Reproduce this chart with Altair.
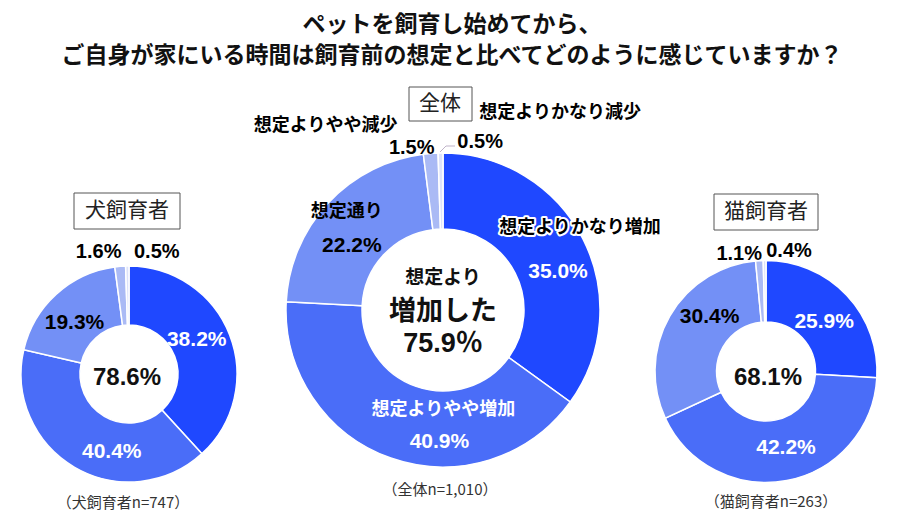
import altair as alt
import pandas as pd

title_lines = ["ペットを飼育し始めてから、",
               "ご自身が家にいる時間は飼育前の想定と比べてどのように感じていますか？"]
categories = ["想定よりかなり増加", "想定よりやや増加", "想定通り", "想定よりやや減少", "想定よりかなり減少"]
groups = ["全体", "犬飼育者", "猫飼育者"]
values_all = [35.0, 40.9, 22.2, 1.5, 0.5]
values_dog = [38.2, 40.4, 19.3, 1.6, 0.5]
values_cat = [25.9, 42.2, 30.4, 1.1, 0.4]
increase_totals = ["75.9％", "78.6%", "68.1%"]
center_caption = ["想定より", "増加した"]
sample_notes = ["（全体n=1,010）", "（犬飼育者n=747）", "（猫飼育者n=263）"]
colors = ["#1f48ff", "#4a6df8", "#7390f6", "#aabaf5", "#dce2fa"]

rows = []
for g, vals in zip(groups, [values_all, values_dog, values_cat]):
    for i, (c, v) in enumerate(zip(categories, vals)):
        rows.append({"group": g, "cat": c, "idx": i, "v": v})
df = pd.DataFrame(rows)

O = 8  # page margin
JP = "Noto Sans CJK JP"
NUM = "Liberation Sans, Noto Sans CJK JP"
THETA_SCALE = alt.Scale(domain=[0, 1])

geom = {
    "全体": dict(cx=443, cy=310, ri=81, ro=157, rl=119),
    "犬飼育者": dict(cx=129, cy=374, ri=49, ro=108, rl=78),
    "猫飼育者": dict(cx=766, cy=371.5, ri=49.5, ro=111, rl=80),
}


def arcs(g):
    p = geom[g]
    return alt.Chart(df).transform_filter(alt.datum.group == g).transform_joinaggregate(
        total="sum(v)").transform_calculate(frac="datum.v / datum.total").mark_arc(
        innerRadius=p["ri"], outerRadius=p["ro"], stroke="white", strokeWidth=1.5
    ).encode(
        x=alt.value(p["cx"] - O), y=alt.value(p["cy"] - O),
        theta=alt.Theta("frac:Q", stack=True, scale=THETA_SCALE),
        color=alt.Color("cat:N", scale=alt.Scale(domain=categories, range=colors), legend=None),
        order=alt.Order("idx:Q"),
    )


def label(g, k, dx, dy, field, color, size, font, halo=False):
    p = geom[g]
    base = alt.Chart(df).transform_filter(alt.datum.group == g).transform_joinaggregate(
        total="sum(v)").transform_window(
        cum="sum(v)", sort=[alt.SortField("idx")], frame=[None, 0]).transform_calculate(
        mid="(datum.cum - datum.v / 2) / datum.total",
        pct="format(datum.v, '.1f') + '%'").transform_filter(alt.datum.idx == k)
    enc = dict(x=alt.value(p["cx"] - O), y=alt.value(p["cy"] - O),
               theta=alt.Theta("mid:Q", stack=False, scale=THETA_SCALE),
               text=alt.Text(f"{field}:N"))
    kw = dict(radius=p["rl"], dx=dx, dy=dy, fontSize=size, fontWeight="bold", font=font,
              align="center", baseline="middle")
    out = []
    if halo:
        out.append(base.mark_text(color="white", stroke="white", strokeWidth=4,
                                  strokeJoin="round", **kw).encode(**enc))
    out.append(base.mark_text(color=color, **kw).encode(**enc))
    return out


def note(text, x, y, size, weight="normal", font=JP, color="#222"):
    return alt.Chart(pd.DataFrame({"t": [text]})).mark_text(
        fontSize=size, fontWeight=weight, font=font, color=color,
        align="center", baseline="middle").encode(
        x=alt.value(x - O), y=alt.value(y - O), text="t:N")


def box(x1, x2, y1, y2):
    return alt.Chart(pd.DataFrame({"a": [0]})).mark_rect(
        fill="white", stroke="#555", strokeWidth=1).encode(
        x=alt.value(x1 - O), x2=alt.value(x2 - O), y=alt.value(y1 - O), y2=alt.value(y2 - O))


def rule(x1, y1, x2, y2):
    return alt.Chart(pd.DataFrame({"a": [0]})).mark_rule(
        color="#bfb3c9", strokeWidth=1).encode(
        x=alt.value(x1 - O), x2=alt.value(x2 - O), y=alt.value(y1 - O), y2=alt.value(y2 - O))


layers = [arcs(g) for g in groups]

# (idx, dx, dy, color, size) for percentage labels
pct_specs = {
    "全体": [(0, 9, 16, "white", 21), (1, 36, 20, "white", 21), (2, -4, 17, "black", 21),
             (3, -22, -43, "black", 20), (4, 39, -49, "black", 20)],
    "犬飼育者": [(0, -5, -6, "white", 21), (1, 22, 11, "white", 21), (2, -2, 7, "black", 21),
              (3, -24, -44, "black", 20), (4, 29, -44, "black", 20)],
    "猫飼育者": [(0, 0, 5, "white", 21), (1, 5, -2, "white", 21), (2, 13, -15, "black", 21),
              (3, -22, -38, "black", 20), (4, 24, -41, "black", 20)],
}
for g, specs in pct_specs.items():
    for k, dx, dy, col, sz in specs:
        layers += label(g, k, dx, dy, "pct", col, sz, NUM)

# category labels on the overall donut: (idx, dx, dy, color, halo)
cat_specs = [(0, 31, -28, "black", True), (1, 40, -12, "white", False),
             (2, -9, -17, "black", False), (3, -108, -65, "black", False),
             (4, 119, -78, "black", False)]
for k, dx, dy, col, halo in cat_specs:
    layers += label("全体", k, dx, dy, "cat", col, 18, JP, halo)

# leader line for the smallest slice
layers += [rule(440, 152, 446, 146), rule(446, 146, 455, 146)]

# group boxes
layers += [box(409, 472, 87, 121), box(74, 180, 193, 229), box(714, 818, 194, 230)]
layers += [note(groups[0], 440, 104, 21), note(groups[1], 127, 211, 21),
           note(groups[2], 766, 212, 21)]

# center texts
layers += [note(center_caption[0], 443, 278, 19, "bold", JP, "#111"),
           note(center_caption[1], 443, 312, 27, "bold", JP, "#111"),
           note(increase_totals[0], 443, 344, 27, "bold", NUM, "#111"),
           note(increase_totals[1], 127, 378, 24, "bold", NUM, "#111"),
           note(increase_totals[2], 768, 378, 24, "bold", NUM, "#111")]

# sample notes
layers += [note(sample_notes[0], 440, 490, 15, color="#333"),
           note(sample_notes[1], 123, 503, 15, color="#333"),
           note(sample_notes[2], 771, 502, 15, color="#333")]

# title
layers += [note(title_lines[0], 452, 25, 23, "bold", JP, "#111"),
           note(title_lines[1], 452, 56, 23, "bold", JP, "#111")]

chart = alt.layer(*layers).properties(
    width=884, height=507, padding=0, autosize="none", background="white"
).configure_view(stroke=None)

chart.save("out.html", embed_options={"renderer": "svg", "actions": False})
